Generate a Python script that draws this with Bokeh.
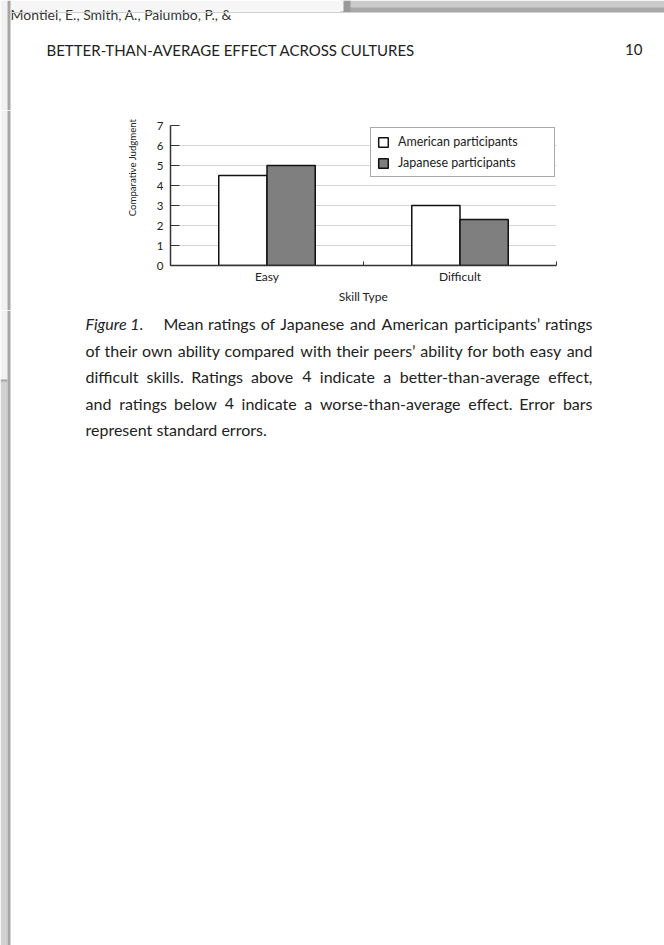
from bokeh.plotting import figure
from bokeh.models import Range1d, FixedTicker, ColumnDataSource
from bokeh.layouts import column, row
from bokeh.transform import dodge
from bokeh.core.properties import value
from bokeh.embed import file_html
from bokeh.resources import INLINE
import math

FONT = "Lato"

# ---------------- data ----------------
categories = ["Easy", "Difficult"]
american = [4.5, 3.0]
japanese = [5.0, 2.3]
series_names = ["American participants", "Japanese participants"]
y_ticks = [0, 1, 2, 3, 4, 5, 6, 7]
grid_ticks = [1, 2, 3, 4, 5, 6]
x_title = "Skill Type"
y_title = "Comparative Judgment"

header_title = "BETTER-THAN-AVERAGE EFFECT ACROSS CULTURES"
page_number = "10"
back_page_text = "Montiel, E., Smith, A., Palumbo, P., &"
caption_label = "Figure 1."
caption_lines = [
    "Mean ratings of Japanese and American participants\u2019 ratings",
    "of their own ability compared with their peers\u2019 ability for both easy and",
    "difficult skills. Ratings above 4 indicate a better-than-average effect,",
    "and ratings below 4 indicate a worse-than-average effect. Error bars",
    "represent standard errors.",
]

# ---------------- page geometry (canvas pixels) ----------------
W, H = 664, 945
TOP_H = 110              # header band
CH_Y0, CH_Y1 = 110, 310  # chart band
YL_W = 140               # y-title strip width
BACK_PAGE_END = 380      # where the sheet behind ends on the left edge

# rough advance widths (em) of the caption face, used to justify the caption lines
EM = {' ': .19, 'a': .50, 'b': .56, 'c': .46, 'd': .56, 'e': .52, 'f': .32, 'g': .50,
      'h': .56, 'i': .23, 'j': .23, 'k': .50, 'l': .23, 'm': .84, 'n': .56, 'o': .56,
      'p': .56, 'q': .56, 'r': .36, 's': .42, 't': .34, 'u': .56, 'v': .50, 'w': .78,
      'x': .49, 'y': .50, 'z': .44, 'A': .67, 'E': .56, 'J': .38, 'M': .83, 'R': .62,
      'F': .54, '.': .20, ',': .20, '\u2019': .20, '-': .33, '4': .58, '1': .58}


def est_width(s, px):
    return sum(EM.get(ch, .55) for ch in s) * px * 1.017


def blank(x0, x1, y0, y1):
    f = figure(width=x1 - x0, height=y1 - y0, x_range=Range1d(x0, x1), y_range=Range1d(y1, y0),
               output_backend="svg", toolbar_location=None, frame_align=False,
               x_axis_location=None, y_axis_location=None, min_border=0)
    f.grid.grid_line_color = None
    f.outline_line_color = None
    f.background_fill_color = "white"
    f.border_fill_color = "white"
    return f


def rect(f, x0, x1, y0, y1, color):
    f.quad(left=[x0], right=[x1], top=[y0], bottom=[y1], fill_color=color, line_color=None)


def left_edge(f, y0, y1):
    a, b = y0, min(y1, BACK_PAGE_END)
    if b > a:
        rect(f, 0, 7, a, b, "#f1f1f1")
    a, b = max(y0, BACK_PAGE_END), y1
    if b > a:
        rect(f, 0, 7, a, b, "#d2d2d2")
    if y0 <= BACK_PAGE_END < y1:
        rect(f, 0, 7, BACK_PAGE_END - 1, BACK_PAGE_END + 1, "#a6a6a6")
    rect(f, 7, 10, y0, y1, "#a6a6a6")


def txt(f, x, y, s, size, align="left", style="normal"):
    f.text(x=[x], y=[y], text=[s], text_font=value(FONT), text_font_size=value(size),
           text_font_style=style, text_color="#222", text_baseline="middle", text_align=align)


# ---------------- top: page header ----------------
top = blank(0, W, 0, TOP_H)
rect(top, 343, W, 0, 12, "#cbcbcb")
rect(top, 343, W, 7, 12, "#a9a9a9")
rect(top, 340, 350, 0, 12, "#9a9a9a")
rect(top, 10, 343, 0, 11, "#f6f6f6")
top.text(x=[10], y=[13.5], text=[back_page_text], text_font=value(FONT),
         text_font_size=value("14px"), text_color="#333", text_baseline="alphabetic")
rect(top, 10, W, 11.5, 12.5, "#cfcfcf")
left_edge(top, 0, TOP_H)
txt(top, 46, 49, header_title, "15px")
txt(top, 642, 49, page_number, "15px", align="right")

# ---------------- y-axis title strip ----------------
yl = blank(0, YL_W, CH_Y0, CH_Y1)
left_edge(yl, CH_Y0, CH_Y1)
yl.text(x=[132], y=[167], text=[y_title], angle=math.pi / 2, text_font=value(FONT),
        text_font_size=value("9.6px"), text_color="#222", text_baseline="middle",
        text_align="center")

# ---------------- chart ----------------
FL, FR, FT, FB = 170, 556, 125, 265
src = ColumnDataSource(dict(x=[i + 0.5 for i in range(len(categories))],
                            american=american, japanese=japanese))

p = figure(width=W - YL_W, height=CH_Y1 - CH_Y0, x_range=Range1d(0, len(categories)),
           y_range=Range1d(0, 7), output_backend="svg", toolbar_location=None,
           frame_align=False,
           min_border_left=FL - YL_W, min_border_right=W - FR,
           min_border_top=FT - CH_Y0, min_border_bottom=CH_Y1 - FB)
p.outline_line_color = None
p.background_fill_color = "white"
p.border_fill_color = "white"

p.vbar(x=dodge("x", -0.125), top="american", width=0.25, source=src,
       fill_color="white", line_color="#111", line_width=1.5, legend_label=series_names[0])
p.vbar(x=dodge("x", 0.125), top="japanese", width=0.25, source=src,
       fill_color="#7f7f7f", line_color="#111", line_width=1.5, legend_label=series_names[1])

p.xgrid.grid_line_color = None
p.ygrid.ticker = FixedTicker(ticks=grid_ticks)
p.ygrid.grid_line_color = "#d6d6d6"
p.ygrid.grid_line_width = 1

xa = p.xaxis[0]
xa.ticker = FixedTicker(ticks=[i + 0.5 for i in range(len(categories))],
                        minor_ticks=list(range(len(categories) + 1)))
xa.major_label_overrides = {i + 0.5: c for i, c in enumerate(categories)}
xa.major_tick_in = 0
xa.major_tick_out = 0
xa.minor_tick_in = 4
xa.minor_tick_out = 0
xa.minor_tick_line_color = "#333"
xa.axis_line_color = "#333"
xa.axis_line_width = 1.5
xa.major_label_standoff = 3
xa.major_label_text_font = FONT
xa.major_label_text_font_size = "12px"
xa.major_label_text_color = "#222"
xa.axis_label = x_title
xa.axis_label_text_font = FONT
xa.axis_label_text_font_style = "normal"
xa.axis_label_text_font_size = "12px"
xa.axis_label_text_color = "#222"
xa.axis_label_standoff = 2

ya = p.yaxis[0]
ya.ticker = FixedTicker(ticks=y_ticks)
ya.major_tick_in = 9
ya.major_tick_out = 0
ya.minor_tick_line_color = None
ya.major_tick_line_color = "#333"
ya.axis_line_color = "#333"
ya.axis_line_width = 1.5
ya.major_label_standoff = 7
ya.major_label_text_font = FONT
ya.major_label_text_font_size = "11.5px"
ya.major_label_text_color = "#222"

lg = p.legend[0]
lg.location = (370 - FL, FB - 177)
lg.border_line_color = "#555"
lg.border_line_width = 1
lg.background_fill_color = "white"
lg.background_fill_alpha = 1
lg.label_text_font = FONT
lg.label_text_font_size = "12.5px"
lg.label_text_color = "#222"
lg.glyph_width = 12
lg.glyph_height = 12
lg.label_height = 12
lg.label_width = 150
lg.label_standoff = 9
lg.padding = 6
lg.spacing = 6
lg.margin = 0

# ---------------- bottom: caption (justified word by word) ----------------
bot = blank(0, W, CH_Y1, H)
left_edge(bot, CH_Y1, H)
CAP_Y0, CAP_PITCH, CAP_PX = 323, 26.5, 16
CAP_L, CAP_R, FIRST_INDENT = 85, 592, 163
txt(bot, CAP_L, CAP_Y0, caption_label, "%dpx" % CAP_PX, style="italic")
for i, line in enumerate(caption_lines):
    cy = CAP_Y0 + CAP_PITCH * i
    x0 = FIRST_INDENT if i == 0 else CAP_L
    words = line.split(" ")
    if i == len(caption_lines) - 1:
        txt(bot, x0, cy, line, "%dpx" % CAP_PX)
        continue
    widths = [est_width(w, CAP_PX) for w in words]
    gap = (CAP_R - x0 - sum(widths)) / (len(words) - 1)
    xs, x = [], x0
    for w in widths:
        xs.append(x)
        x += w + gap
    bot.text(x=xs[:-1], y=[cy] * (len(words) - 1), text=words[:-1], text_font=value(FONT),
             text_font_size=value("%dpx" % CAP_PX), text_color="#222",
             text_baseline="middle", text_align="left")
    txt(bot, CAP_R, cy, words[-1], "%dpx" % CAP_PX, align="right")

layout = column(top, row(yl, p, spacing=0), bot, spacing=0)
open("out.html", "w").write(file_html(layout, INLINE))
